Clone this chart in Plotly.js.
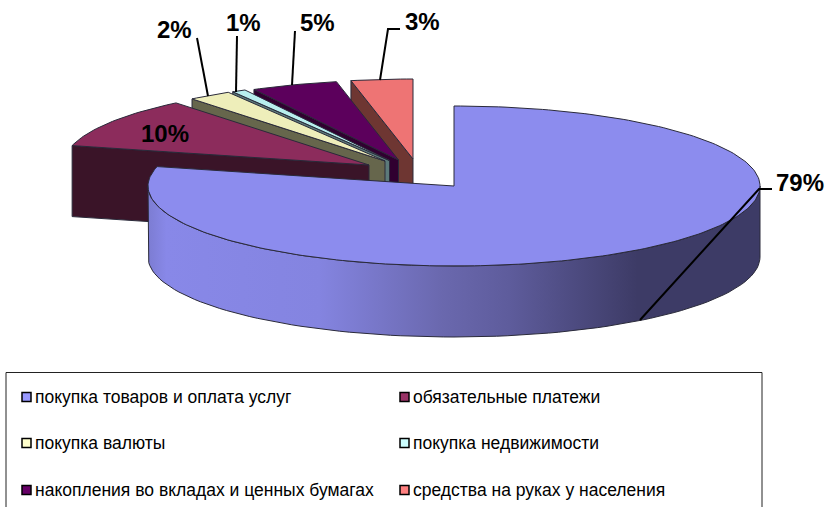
<!DOCTYPE html>
<html><head><meta charset="utf-8">
<script src="https://cdn.plot.ly/plotly-3.0.1.min.js"></script>
<style>html,body{margin:0;padding:0;background:#fff}#c{width:827px;height:507px}</style>
</head><body><div id="c"></div>
<script>
const categories = ["покупка товаров и оплата услуг","обязательные платежи","покупка валюты","покупка недвижимости","накопления во вкладах и ценных бумагах","средства на руках у населения"];
const shares = [78.9,10.24,2.3,0.73,4.58,3.25];
const topColors = ["#8C8CEE","#8C2C5C","#EEEEBA","#B8EEEE","#5C005C","#EE7474"];
const faceColors = ["#3D3B66","#3A1428","#66664C","#5C7A7A","#300030","#6E3632"];
const swatchColors = ["#9999FF","#993366","#FFFFCC","#CCFFFF","#660066","#FF8080"];
const apexX = [454,369,385,389.5,398.5,413];
const apexY = [186,165,161,160.5,160,159];
const labelX = [800,165,174,243,317,422];
const labelY = [182,133,29,22,22,21];
const leaders = [[[640,320],[759,189],[772,189]],[],[[197,38],[208,96]],[[237,36],[236,92]],[[295,31],[292,85]],[[400,29],[388,29],[380,80]]];
const RX = 306, RY = 80, DEPTH = 71;

const total = shares.reduce((a,b)=>a+b,0);
const starts = []; let acc = 0;
shares.forEach(s=>{starts.push(acc/total*2*Math.PI); acc+=s;});
const rim = (i,t)=>[apexX[i]+RX*Math.sin(t), apexY[i]-RY*Math.cos(t)];
const edge = '#2A2A3A';
const traces = [];
function poly(pts,fill,name,extra){
  traces.push(Object.assign({type:'scatter',mode:'lines',x:pts.map(p=>p[0]),y:pts.map(p=>p[1]),fill:'toself',
    fillcolor:fill,line:{color:edge,width:1},hoverinfo:'skip',showlegend:false,name:name},extra||{}));
}
function topFace(i){
  const a=starts[i], b=a+shares[i]/total*2*Math.PI, pts=[[apexX[i],apexY[i]]];
  const n=Math.max(8,Math.ceil(shares[i]*3));
  for(let k=0;k<=n;k++) pts.push(rim(i,a+(b-a)*k/n));
  pts.push([apexX[i],apexY[i]]);
  return pts;
}
[5,4,3,2,1].forEach(i=>{
  const c=rim(i,starts[i]);
  poly([c,[apexX[i],apexY[i]],[apexX[i],apexY[i]+DEPTH],[c[0],c[1]+DEPTH],c],faceColors[i],categories[i]+' (грань)');
  poly(topFace(i),topColors[i],categories[i]);
});
const wall=[];
for(let k=0;k<=90;k++) wall.push(rim(0,Math.PI/2+Math.PI*k/90));
for(let k=90;k>=0;k--){const p=rim(0,Math.PI/2+Math.PI*k/90); wall.push([p[0],p[1]+DEPTH]);}
wall.push(wall[0]);
poly(wall,faceColors[0],categories[0]+' (стенка)',{fillgradient:{type:'horizontal',
  colorscale:[[0,'#7C7CD2'],[0.03,'#8888E8'],[0.28,'#8484E0'],[0.48,'#6A68AE'],[0.59,'#5E5C9C'],[0.8,'#3D3B66'],[1,'#3D3B66']]}});
poly(topFace(0),topColors[0],categories[0]);

const shapes=[], annotations=[];
leaders.forEach(l=>{ if(l.length) shapes.push({type:'path',xref:'x',yref:'y',layer:'above',
  path:'M'+l.map(p=>p.join(',')).join(' L'),line:{color:'#000',width:2}}); });
shares.forEach((s,i)=>annotations.push({x:labelX[i],y:labelY[i],xref:'x',yref:'y',text:'<b>'+Math.round(s)+'%</b>',showarrow:false,
  font:{family:'Liberation Sans, Arial, sans-serif',size:24,color:'#000'},xanchor:'center',yanchor:'middle'}));
shapes.push({type:'rect',xref:'x',yref:'y',x0:6,y0:372.5,x1:762,y1:515,line:{color:'#222',width:1},fillcolor:'#fff',layer:'below'});
const legCol=[22,400], legRow=[397,443,490];
categories.forEach((c,i)=>{
  const cx=legCol[i%2], cy=legRow[Math.floor(i/2)];
  shapes.push({type:'rect',xref:'x',yref:'y',x0:cx,x1:cx+9,y0:cy-4.5,y1:cy+4.5,fillcolor:swatchColors[i],line:{color:'#000',width:1.5},layer:'above'});
  annotations.push({x:cx+11,y:cy,xref:'x',yref:'y',text:c,showarrow:false,xanchor:'left',yanchor:'middle',
    font:{family:'Liberation Sans, Arial, sans-serif',size:17.5,color:'#000'}});
});
Plotly.newPlot('c',traces,{width:827,height:507,margin:{l:0,r:0,t:0,b:0},paper_bgcolor:'#fff',plot_bgcolor:'rgba(0,0,0,0)',
  xaxis:{range:[0,827],visible:false,fixedrange:true},yaxis:{range:[507,0],visible:false,fixedrange:true},
  showlegend:false,shapes:shapes,annotations:annotations},{displayModeBar:false,staticPlot:true});
</script></body></html>
